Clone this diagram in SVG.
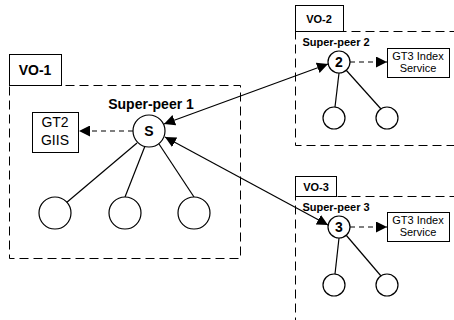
<svg xmlns="http://www.w3.org/2000/svg" width="454" height="320" viewBox="0 0 454 320">
<defs>
<marker id="ah" viewBox="0 0 10 10" refX="10" refY="5" markerWidth="11" markerHeight="11" markerUnits="userSpaceOnUse" orient="auto-start-reverse">
<path d="M0,0 L10,5 L0,10 z" fill="#000"/>
</marker>
<style>
.vo{fill:none;stroke:#000;stroke-width:1;stroke-dasharray:9,5}
.lbl{fill:#fff;stroke:#000;stroke-width:1}
.nd{fill:#fff;stroke:#000;stroke-width:1.2}
.t{font-family:"Liberation Sans",Arial,sans-serif;fill:#000}
.b{font-weight:bold}
.ln{stroke:#000;stroke-width:1.2;fill:none}
.da{stroke:#000;stroke-width:1.2;fill:none;stroke-dasharray:5,4}
</style>
</defs>
<g id="vo1">
<rect class="vo" x="9.5" y="85.5" width="231" height="173"/>
<rect class="lbl" x="9.5" y="54.5" width="52" height="31"/>
<text class="t b" x="35" y="75" font-size="14" text-anchor="middle">VO-1</text>
</g>
<g id="vo2">
<rect class="vo" x="295.5" y="31.5" width="170" height="114"/>
<rect class="lbl" x="295.5" y="5.5" width="48" height="26"/>
<text class="t b" x="319" y="23" font-size="11" text-anchor="middle">VO-2</text>
</g>
<g id="vo3">
<rect class="vo" x="295.5" y="196.5" width="170" height="140"/>
<rect class="lbl" x="295.5" y="176.5" width="41" height="20"/>
<text class="t b" x="316" y="191" font-size="11" text-anchor="middle">VO-3</text>
</g>
<g id="connectors">
<line class="ln" x1="137" y1="143" x2="66" y2="203"/>
<line class="ln" x1="145" y1="146" x2="125" y2="197"/>
<line class="ln" x1="159" y1="144" x2="194" y2="197"/>
<line class="da" x1="133" y1="131" x2="79" y2="131" marker-end="url(#ah)"/>
<line class="ln" x1="164" y1="124" x2="328" y2="64" marker-start="url(#ah)" marker-end="url(#ah)"/>
<line class="ln" x1="165" y1="137" x2="328" y2="225" marker-start="url(#ah)" marker-end="url(#ah)"/>
<line class="ln" x1="339" y1="73" x2="335" y2="107"/>
<line class="ln" x1="346" y1="70" x2="381" y2="109"/>
<line class="da" x1="350" y1="62" x2="387" y2="62" marker-end="url(#ah)"/>
<line class="ln" x1="339" y1="238" x2="335" y2="274"/>
<line class="ln" x1="346" y1="235" x2="381" y2="276"/>
<line class="da" x1="350" y1="227" x2="387" y2="227" marker-end="url(#ah)"/>
</g>
<g id="sp1">
<text class="t b" x="151" y="109" font-size="14" text-anchor="middle">Super-peer 1</text>
<circle class="nd" cx="149" cy="131" r="16"/>
<text class="t b" x="149" y="136" font-size="14" text-anchor="middle">S</text>
</g>
<g id="giis">
<rect class="lbl" x="32.5" y="112.5" width="46" height="40"/>
<text class="t" x="55" y="127" font-size="14" text-anchor="middle">GT2</text>
<text class="t" x="55" y="145" font-size="14" text-anchor="middle">GIIS</text>
</g>
<g id="c1a"><circle class="nd" cx="55" cy="213" r="16"/></g>
<g id="c1b"><circle class="nd" cx="125" cy="213" r="16"/></g>
<g id="c1c"><circle class="nd" cx="194" cy="213" r="16"/></g>
<g id="sp2">
<text class="t b" x="336" y="46" font-size="11" text-anchor="middle">Super-peer 2</text>
<circle class="nd" cx="339" cy="62" r="11"/>
<text class="t b" x="339" y="67" font-size="14" text-anchor="middle">2</text>
</g>
<g id="idx2">
<rect class="lbl" x="387.5" y="48.5" width="62" height="29"/>
<text class="t" x="418" y="60" font-size="11" text-anchor="middle">GT3 Index</text>
<text class="t" x="418" y="72" font-size="11" text-anchor="middle">Service</text>
</g>
<g id="c2a"><circle class="nd" cx="334" cy="118" r="11"/></g>
<g id="c2b"><circle class="nd" cx="387" cy="118" r="11"/></g>
<g id="sp3">
<text class="t b" x="336" y="211" font-size="11" text-anchor="middle">Super-peer 3</text>
<circle class="nd" cx="339" cy="227" r="11"/>
<text class="t b" x="339" y="232" font-size="14" text-anchor="middle">3</text>
</g>
<g id="idx3">
<rect class="lbl" x="387.5" y="212.5" width="62" height="29"/>
<text class="t" x="418" y="224" font-size="11" text-anchor="middle">GT3 Index</text>
<text class="t" x="418" y="236" font-size="11" text-anchor="middle">Service</text>
</g>
<g id="c3a"><circle class="nd" cx="334" cy="285" r="11"/></g>
<g id="c3b"><circle class="nd" cx="387" cy="285" r="11"/></g>
</svg>
